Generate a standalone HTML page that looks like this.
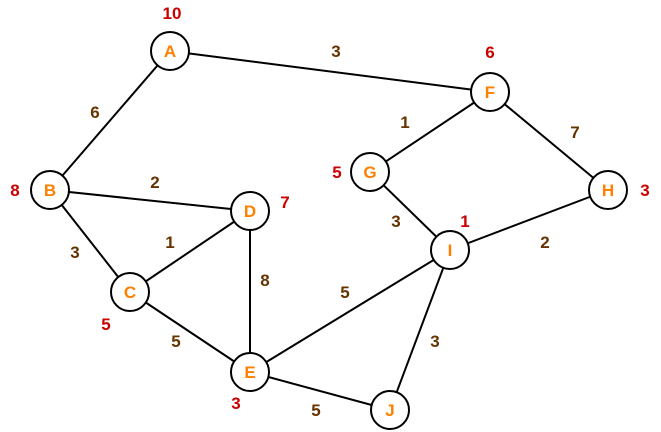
<!DOCTYPE html>
<html><head><style>body{margin:0;background:#fff}svg{display:block}</style></head><body>
<svg width="661" height="432" xmlns="http://www.w3.org/2000/svg" font-family="Liberation Sans, sans-serif" font-weight="bold">
<g stroke="#000" stroke-width="2">
<line x1="170" y1="51" x2="490" y2="92"/>
<line x1="170" y1="51" x2="50" y2="190"/>
<line x1="50" y1="190" x2="250" y2="211"/>
<line x1="50" y1="190" x2="130" y2="292"/>
<line x1="130" y1="292" x2="250" y2="211"/>
<line x1="250" y1="211" x2="250" y2="372"/>
<line x1="130" y1="292" x2="250" y2="372"/>
<line x1="250" y1="372" x2="450" y2="250"/>
<line x1="250" y1="372" x2="390" y2="410"/>
<line x1="450" y1="250" x2="390" y2="410"/>
<line x1="450" y1="250" x2="370" y2="172"/>
<line x1="450" y1="250" x2="608" y2="190"/>
<line x1="490" y1="92" x2="370" y2="172"/>
<line x1="490" y1="92" x2="608" y2="190"/>
</g>
<g fill="#fff" stroke="#000" stroke-width="2">
<circle cx="170" cy="51" r="19"/><circle cx="490" cy="92" r="19"/><circle cx="50" cy="190" r="19"/>
<circle cx="250" cy="211" r="19"/><circle cx="370" cy="172" r="19"/><circle cx="608" cy="190" r="19"/>
<circle cx="450" cy="250" r="19"/><circle cx="130" cy="292" r="19"/><circle cx="250" cy="372" r="19"/>
<circle cx="390" cy="410" r="19"/>
</g>
<g fill="#FF8000" font-size="17" text-anchor="middle">
<text x="170" y="57">A</text><text x="490" y="98">F</text><text x="50" y="196">B</text>
<text x="250" y="217">D</text><text x="370" y="178">G</text><text x="608" y="196">H</text>
<text x="450" y="256">I</text><text x="130" y="298">C</text><text x="250" y="378">E</text>
<text x="390" y="416">J</text>
</g>
<g fill="#CC0000" font-size="17" text-anchor="middle">
<text x="172" y="19">10</text><text x="490" y="58">6</text><text x="15" y="196">8</text>
<text x="285" y="208">7</text><text x="337" y="178">5</text><text x="645" y="196">3</text>
<text x="465" y="227">1</text><text x="106" y="330">5</text><text x="236" y="409">3</text>
</g>
<g fill="#663300" font-size="17" text-anchor="middle">
<text x="336" y="57">3</text><text x="95" y="118">6</text><text x="155" y="188">2</text>
<text x="75" y="258">3</text><text x="170" y="248">1</text><text x="265" y="286">8</text>
<text x="176" y="347">5</text><text x="345" y="298">5</text><text x="316" y="416">5</text>
<text x="435" y="347">3</text><text x="396" y="227">3</text><text x="545" y="248">2</text>
<text x="405" y="128">1</text><text x="575" y="138">7</text>
</g>
</svg>
</body></html>
